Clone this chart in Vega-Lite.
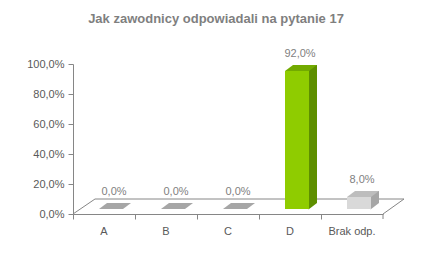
{
  "$schema": "https://vega.github.io/schema/vega-lite/v6.json",
  "autosize": {"type": "none"},
  "padding": {"left": 73, "top": 64, "right": 49, "bottom": 43},
  "width": 310,
  "height": 150,
  "background": "white",
  "title": {"text": "Jak zawodnicy odpowiadali na pytanie 17", "font": "Liberation Sans", "fontSize": 13, "fontWeight": "bold", "color": "#7f7f7f", "anchor": "middle", "dx": -12, "offset": 22},
  "config": {
    "locale": {"number": {"decimal": ",", "thousands": "\u00a0", "grouping": [3], "currency": ["", " zł"]}},
    "view": {"stroke": null},
    "font": "Liberation Sans"
  },
  "data": {"values": [
    {"cat": "A", "value": 0},
    {"cat": "B", "value": 0},
    {"cat": "C", "value": 0},
    {"cat": "D", "value": 0.92},
    {"cat": "Brak odp.", "value": 0.08}
  ]},
  "encoding": {
    "x": {"field": "cat", "type": "nominal", "scale": {"domain": ["A", "B", "C", "D", "Brak odp."], "paddingInner": 0, "paddingOuter": 0},
      "axis": {"title": null, "labelAngle": 0, "bandPosition": 0, "tickSize": 5, "labelPadding": 6, "labelFontSize": 11, "labelColor": "#595959", "domainColor": "#868686", "tickColor": "#868686", "labelFont": "Liberation Sans"}},
    "y": {"field": "value", "type": "quantitative", "scale": {"domain": [0, 1]},
      "axis": {"title": null, "values": [0, 0.2, 0.4, 0.6, 0.8, 1], "format": ".1%", "grid": false, "tickSize": 5, "labelPadding": 4, "labelFontSize": 11, "labelColor": "#595959", "domainColor": "#868686", "tickColor": "#868686", "labelFont": "Liberation Sans"}}
  },
  "layer": [
    {
      "transform": [{"filter": "datum.cat === 'C'"}],
      "mark": {"type": "point", "shape": "M-0.8807,0 L-0.7557,-0.0852 L1,-0.0852 L0.8807,0", "size": 123904, "filled": false, "color": "#868686", "opacity": 1, "strokeWidth": 1},
      "encoding": {"y": {"datum": 0}}
    },
    {
      "transform": [{"filter": "datum.value > 0"}],
      "mark": {"type": "bar", "width": 24, "xOffset": 15, "yOffset": -11, "y2Offset": -11},
      "encoding": {
        "y2": {"datum": 0},
        "color": {"condition": {"test": "datum.cat === 'D'", "value": "#5e8f00"}, "value": "#a6a6a6"}
      }
    },
    {
      "transform": [{"filter": "datum.value > 0"}],
      "mark": {"type": "point", "shape": "M0.685,-0.1667 L0.685,-0.4074 L1,-0.4074 Z", "size": 2916, "filled": true, "opacity": 1},
      "encoding": {
        "y": {"datum": 0},
        "color": {"condition": {"test": "datum.cat === 'D'", "value": "#5e8f00"}, "value": "#a6a6a6"}
      }
    },
    {
      "transform": [{"filter": "datum.value > 0"}],
      "mark": {"type": "bar", "width": 24, "xOffset": 7, "yOffset": -5, "y2Offset": -5},
      "encoding": {
        "y2": {"datum": 0},
        "color": {"condition": {"test": "datum.cat === 'D'", "value": "#8fcc00"}, "value": "#d9d9d9"}
      }
    },
    {
      "mark": {"type": "point", "shape": "M-0.1852,-0.1852 L0.7037,-0.1852 L1,-0.4074 L0.1111,-0.4074 Z", "size": 2916, "filled": true, "opacity": 1},
      "encoding": {
        "color": {"condition": [{"test": "datum.cat === 'D'", "value": "#72aa00"}, {"test": "datum.value === 0", "value": "#a6a6a6"}], "value": "#bdbdbd"}
      }
    },
    {
      "mark": {"type": "text", "dx": 10, "dy": -22, "fontSize": 11, "color": "#7f7f7f", "font": "Liberation Sans"},
      "encoding": {"text": {"field": "value", "type": "quantitative", "format": ".1%"}}
    },
    {
      "transform": [{"filter": "datum.cat === 'Brak odp.'"}],
      "mark": {"type": "rule", "color": "#868686", "y2Offset": 5},
      "encoding": {"x": {"field": "cat", "type": "nominal", "bandPosition": 1}, "y": {"datum": 0}, "y2": {"datum": 0}}
    }
  ]
}
